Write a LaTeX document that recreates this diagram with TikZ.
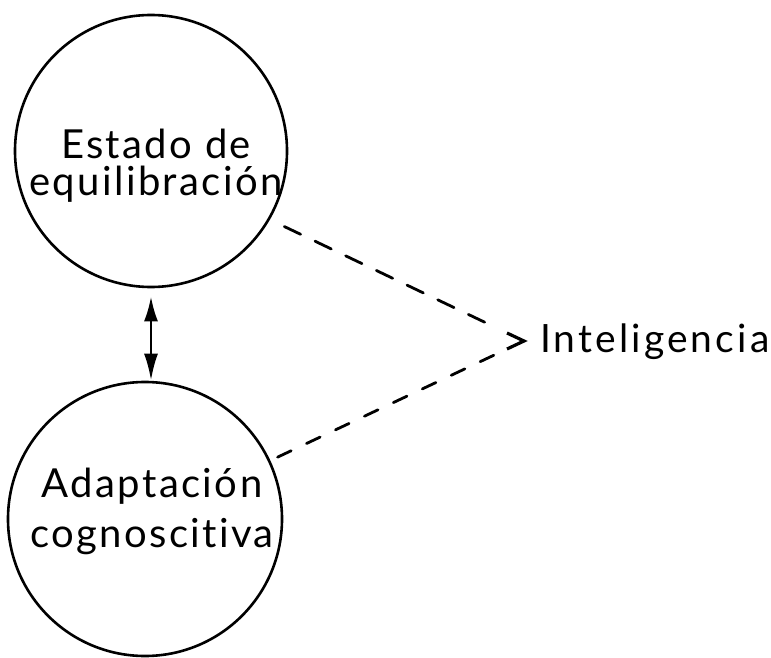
\documentclass[tikz,border=0pt]{standalone}
\usepackage{fontspec}
\setmainfont{Lato}
\newfontfamily\lbl[LetterSpace=6,Ligatures={NoCommon}]{Lato}
\newfontfamily\intelfont[LetterSpace=8,Ligatures={NoCommon}]{Lato}
\usetikzlibrary{arrows.meta}
\begin{document}
\begin{tikzpicture}[x=1pt,y=-1pt,
  bubble/.style={draw,circle,line width=2.6pt,minimum size=272pt,inner sep=0pt},
  ctext/.style={align=center,inner sep=0pt},
  link/.style={line width=2.8pt,line cap=round},
  both/.style={line width=2.8pt,{Latex[length=25pt,width=14pt]}-{Latex[length=27pt,width=14pt]}}]
\useasboundingbox (0,0) rectangle (771,658);
\node[bubble] (top) at (151,151) {};
\node[bubble,minimum size=274pt] (bot) at (145,519) {};
\node[ctext,font=\lbl\fontsize{40}{37}\selectfont] (toptext) at (156,166) {Estado de\\equilibración};
\node[ctext,font=\lbl\fontsize{40}{50}\selectfont] (bottext) at (152,511) {Adaptación\\cognoscitiva};
\coordinate (tip) at (524,341);
\node[anchor=base west,inner sep=0pt,font=\intelfont\fontsize{39}{40}\selectfont] (intel) at (540,352) {Inteligencia};
\draw[both,shorten <=8pt] (top.south) -- (top.south |- bot.north);
\draw[link,dash pattern=on 18pt off 16pt,shorten <=16pt,shorten >=31pt] (top.-30) -- (tip);
\draw[link,dash pattern=on 15pt off 17pt,shorten <=8pt,shorten >=31pt] (bot.25) -- (tip);
\draw[line width=3.2pt] (tip) ++(-17,-8) -- (tip) -- ++(-17,8);
\end{tikzpicture}
\end{document}
